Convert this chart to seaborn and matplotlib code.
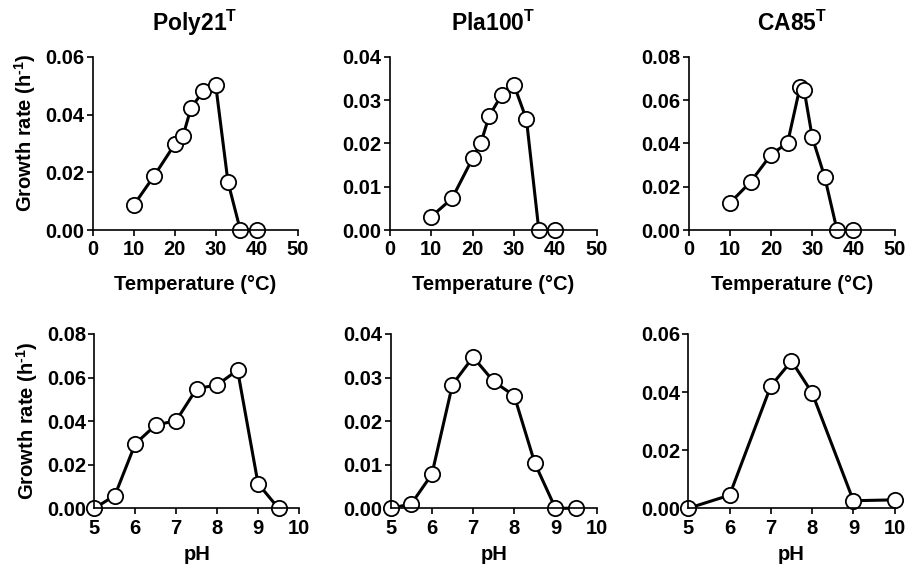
import matplotlib
matplotlib.use("Agg")
import matplotlib.pyplot as plt
import seaborn as sns
import pandas as pd

sns.set_theme(style="ticks")
plt.rcParams['font.family'] = ['Liberation Sans', 'DejaVu Sans']
plt.rcParams['font.weight'] = 'bold'
plt.rcParams['mathtext.fontset'] = 'custom'
plt.rcParams['mathtext.rm'] = 'Liberation Sans:bold'
plt.rcParams['mathtext.bf'] = 'Liberation Sans:bold'
plt.rcParams['mathtext.it'] = 'Liberation Sans:bold'

strains = ["Poly21", "Pla100", "CA85"]

# Temperature data
poly21_temp = [10, 15, 20, 22, 24, 27, 30, 33, 36, 40]
poly21_temp_rate = [0.0086, 0.0188, 0.0297, 0.0325, 0.0424, 0.0482, 0.0503, 0.0166, 0.0, 0.0]
pla100_temp = [10, 15, 20, 22, 24, 27, 30, 33, 36, 40]
pla100_temp_rate = [0.0031, 0.0073, 0.0166, 0.0202, 0.0264, 0.0312, 0.0335, 0.0256, 0.0, 0.0]
ca85_temp = [10, 15, 20, 24, 27, 28, 30, 33, 36, 40]
ca85_temp_rate = [0.0125, 0.0222, 0.0349, 0.0403, 0.0660, 0.0649, 0.0428, 0.0246, 0.0, 0.0]

# pH data
poly21_ph = [5, 5.5, 6, 6.5, 7, 7.5, 8, 8.5, 9, 9.5]
poly21_ph_rate = [0.0, 0.0058, 0.0296, 0.0382, 0.0402, 0.0549, 0.0566, 0.0634, 0.0113, 0.0]
pla100_ph = [5, 5.5, 6, 6.5, 7, 7.5, 8, 8.5, 9, 9.5]
pla100_ph_rate = [0.0, 0.0010, 0.0078, 0.0284, 0.0347, 0.0291, 0.0258, 0.0103, 0.0, 0.0]
ca85_ph = [5, 6, 7, 7.5, 8, 9, 10]
ca85_ph_rate = [0.0, 0.0045, 0.0421, 0.0507, 0.0397, 0.0026, 0.0029]

temp_ticks = [0, 10, 20, 30, 40, 50]
ph_ticks = [5, 6, 7, 8, 9, 10]
temp_yticks = [[0.00, 0.02, 0.04, 0.06], [0.00, 0.01, 0.02, 0.03, 0.04], [0.00, 0.02, 0.04, 0.06, 0.08]]
ph_yticks = [[0.00, 0.02, 0.04, 0.06, 0.08], [0.00, 0.01, 0.02, 0.03, 0.04], [0.00, 0.02, 0.04, 0.06]]

temp_data = [(poly21_temp, poly21_temp_rate), (pla100_temp, pla100_temp_rate), (ca85_temp, ca85_temp_rate)]
ph_data = [(poly21_ph, poly21_ph_rate), (pla100_ph, pla100_ph_rate), (ca85_ph, ca85_ph_rate)]

ylab = r"Growth rate (h$^{\text{-1}}$)"

fig = plt.figure(figsize=(9.06, 5.74), dpi=100)

top_lefts = [0.1023, 0.4305, 0.7602]
bot_lefts = [0.1041, 0.4312, 0.7597]
top_rights = [0.3286, 0.6586, 0.9875]
bot_rights = [0.3300, 0.6586, 0.9875]

def style_ax(ax, xticks, yticks):
    ax.set_xlim(xticks[0], xticks[-1])
    ax.set_ylim(yticks[0], yticks[-1])
    ax.set_xticks(xticks)
    ax.set_yticks(yticks)
    ax.set_yticklabels([f"{v:.2f}" for v in yticks])
    sns.despine(ax=ax)
    for s in ["left", "bottom"]:
        ax.spines[s].set_linewidth(1.2)
        ax.spines[s].set_color("black")
    ax.tick_params(axis="both", direction="out", length=4.5, width=1.2, color="black",
                   labelsize=14.5, labelcolor="black")
    ax.tick_params(axis="x", pad=3)
    ax.tick_params(axis="y", pad=1.5)
    for lab in ax.get_xticklabels() + ax.get_yticklabels():
        lab.set_fontweight("bold")
    for line in ax.lines:
        line.set_clip_on(False)

def draw(ax, x, y):
    df = pd.DataFrame({"x": x, "y": y})
    sns.lineplot(data=df, x="x", y="y", ax=ax, estimator=None, sort=False,
                 color="black", linewidth=2.2, marker="o", markersize=11,
                 markerfacecolor="white", markeredgecolor="black", markeredgewidth=1.3)

for i in range(3):
    ax = fig.add_axes([top_lefts[i], 0.5993, top_rights[i] - top_lefts[i], 0.3014])
    draw(ax, *temp_data[i])
    style_ax(ax, temp_ticks, temp_yticks[i])
    ax.set_xlabel("Temperature (°C)", fontsize=14.5, fontweight="bold", labelpad=11, color="black")
    ax.set_ylabel("")
    ax.set_title(strains[i] + r"$^{\mathrm{T}}$", fontsize=16.5, fontweight="bold", pad=18.5, color="black")
    if i == 0:
        ax.set_ylabel(ylab, fontsize=14.5, fontweight="bold", labelpad=5, color="black")
        ax.yaxis.label.set_y(0.565)

    ax2 = fig.add_axes([bot_lefts[i], 0.1145, bot_rights[i] - bot_lefts[i], 0.3037])
    draw(ax2, *ph_data[i])
    style_ax(ax2, ph_ticks, ph_yticks[i])
    ax2.set_xlabel("pH", fontsize=14.5, fontweight="bold", labelpad=5.5, color="black")
    ax2.set_ylabel("")
    if i == 0:
        ax2.set_ylabel(ylab, fontsize=14.5, fontweight="bold", labelpad=5, color="black")

fig.savefig("out.png", dpi=100)
